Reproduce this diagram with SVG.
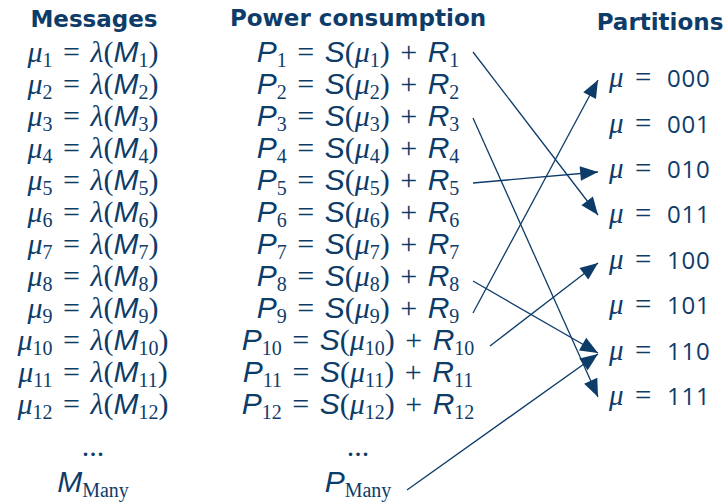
<svg xmlns="http://www.w3.org/2000/svg" width="727" height="504" viewBox="0 0 727 504">
<style>
text{fill:#0e3c69}
.h{font-family:"DejaVu Sans",sans-serif;font-weight:bold;font-size:23px;text-anchor:middle}
.m{font-family:"Liberation Serif",serif;font-size:30px;text-anchor:middle;word-spacing:3px}
.p{font-family:"Liberation Serif",serif;font-size:29px}
.g{font-style:italic}
.s{font-family:"Liberation Sans",sans-serif;font-style:italic}
.b{font-size:20px}
.d{font-family:"Open Sans","Liberation Sans",sans-serif;font-size:24px;letter-spacing:0.8px}
.c line{stroke:#0e3c69;stroke-width:1.3;fill:none}
</style>
<defs>
<marker id="ah" markerUnits="userSpaceOnUse" markerWidth="20" markerHeight="16" viewBox="-17 -7 18 14" refX="0" refY="0" orient="auto">
<path d="M0,0 L-16,-6.5 L-16,6.5 z" fill="#0e3c69"/>
</marker>
</defs>
<g id="headers">
<text class="h" x="94" y="27">Messages</text>
<text class="h" x="358" y="26">Power consumption</text>
<text class="h" x="660" y="30">Partitions</text>
</g>
<g id="messages">
<text class="m" x="93" y="62"><tspan class="g">μ</tspan><tspan class="b" dy="5">1</tspan><tspan dy="-5"> = </tspan><tspan class="g">λ</tspan>(<tspan class="s">M</tspan><tspan class="b" dy="5">1</tspan><tspan dy="-5">)</tspan></text>
<text class="m" x="93" y="94"><tspan class="g">μ</tspan><tspan class="b" dy="5">2</tspan><tspan dy="-5"> = </tspan><tspan class="g">λ</tspan>(<tspan class="s">M</tspan><tspan class="b" dy="5">2</tspan><tspan dy="-5">)</tspan></text>
<text class="m" x="93" y="126"><tspan class="g">μ</tspan><tspan class="b" dy="5">3</tspan><tspan dy="-5"> = </tspan><tspan class="g">λ</tspan>(<tspan class="s">M</tspan><tspan class="b" dy="5">3</tspan><tspan dy="-5">)</tspan></text>
<text class="m" x="93" y="158"><tspan class="g">μ</tspan><tspan class="b" dy="5">4</tspan><tspan dy="-5"> = </tspan><tspan class="g">λ</tspan>(<tspan class="s">M</tspan><tspan class="b" dy="5">4</tspan><tspan dy="-5">)</tspan></text>
<text class="m" x="93" y="190"><tspan class="g">μ</tspan><tspan class="b" dy="5">5</tspan><tspan dy="-5"> = </tspan><tspan class="g">λ</tspan>(<tspan class="s">M</tspan><tspan class="b" dy="5">5</tspan><tspan dy="-5">)</tspan></text>
<text class="m" x="93" y="222"><tspan class="g">μ</tspan><tspan class="b" dy="5">6</tspan><tspan dy="-5"> = </tspan><tspan class="g">λ</tspan>(<tspan class="s">M</tspan><tspan class="b" dy="5">6</tspan><tspan dy="-5">)</tspan></text>
<text class="m" x="93" y="254"><tspan class="g">μ</tspan><tspan class="b" dy="5">7</tspan><tspan dy="-5"> = </tspan><tspan class="g">λ</tspan>(<tspan class="s">M</tspan><tspan class="b" dy="5">7</tspan><tspan dy="-5">)</tspan></text>
<text class="m" x="93" y="286"><tspan class="g">μ</tspan><tspan class="b" dy="5">8</tspan><tspan dy="-5"> = </tspan><tspan class="g">λ</tspan>(<tspan class="s">M</tspan><tspan class="b" dy="5">8</tspan><tspan dy="-5">)</tspan></text>
<text class="m" x="93" y="318"><tspan class="g">μ</tspan><tspan class="b" dy="5">9</tspan><tspan dy="-5"> = </tspan><tspan class="g">λ</tspan>(<tspan class="s">M</tspan><tspan class="b" dy="5">9</tspan><tspan dy="-5">)</tspan></text>
<text class="m" x="93" y="350"><tspan class="g">μ</tspan><tspan class="b" dy="5">10</tspan><tspan dy="-5"> = </tspan><tspan class="g">λ</tspan>(<tspan class="s">M</tspan><tspan class="b" dy="5">10</tspan><tspan dy="-5">)</tspan></text>
<text class="m" x="93" y="382"><tspan class="g">μ</tspan><tspan class="b" dy="5">11</tspan><tspan dy="-5"> = </tspan><tspan class="g">λ</tspan>(<tspan class="s">M</tspan><tspan class="b" dy="5">11</tspan><tspan dy="-5">)</tspan></text>
<text class="m" x="93" y="414"><tspan class="g">μ</tspan><tspan class="b" dy="5">12</tspan><tspan dy="-5"> = </tspan><tspan class="g">λ</tspan>(<tspan class="s">M</tspan><tspan class="b" dy="5">12</tspan><tspan dy="-5">)</tspan></text>
<text class="m" x="93" y="456">...</text>
<text class="m" x="93" y="492"><tspan class="s">M</tspan><tspan class="b" dy="5">Many</tspan></text>
</g>
<g id="power">
<text class="m" x="358" y="62"><tspan class="s">P</tspan><tspan class="b" dy="5">1</tspan><tspan dy="-5"> = </tspan><tspan class="s">S</tspan>(<tspan class="g">μ</tspan><tspan class="b" dy="5">1</tspan><tspan dy="-5">) + </tspan><tspan class="s">R</tspan><tspan class="b" dy="5">1</tspan></text>
<text class="m" x="358" y="94"><tspan class="s">P</tspan><tspan class="b" dy="5">2</tspan><tspan dy="-5"> = </tspan><tspan class="s">S</tspan>(<tspan class="g">μ</tspan><tspan class="b" dy="5">2</tspan><tspan dy="-5">) + </tspan><tspan class="s">R</tspan><tspan class="b" dy="5">2</tspan></text>
<text class="m" x="358" y="126"><tspan class="s">P</tspan><tspan class="b" dy="5">3</tspan><tspan dy="-5"> = </tspan><tspan class="s">S</tspan>(<tspan class="g">μ</tspan><tspan class="b" dy="5">3</tspan><tspan dy="-5">) + </tspan><tspan class="s">R</tspan><tspan class="b" dy="5">3</tspan></text>
<text class="m" x="358" y="158"><tspan class="s">P</tspan><tspan class="b" dy="5">4</tspan><tspan dy="-5"> = </tspan><tspan class="s">S</tspan>(<tspan class="g">μ</tspan><tspan class="b" dy="5">4</tspan><tspan dy="-5">) + </tspan><tspan class="s">R</tspan><tspan class="b" dy="5">4</tspan></text>
<text class="m" x="358" y="190"><tspan class="s">P</tspan><tspan class="b" dy="5">5</tspan><tspan dy="-5"> = </tspan><tspan class="s">S</tspan>(<tspan class="g">μ</tspan><tspan class="b" dy="5">5</tspan><tspan dy="-5">) + </tspan><tspan class="s">R</tspan><tspan class="b" dy="5">5</tspan></text>
<text class="m" x="358" y="222"><tspan class="s">P</tspan><tspan class="b" dy="5">6</tspan><tspan dy="-5"> = </tspan><tspan class="s">S</tspan>(<tspan class="g">μ</tspan><tspan class="b" dy="5">6</tspan><tspan dy="-5">) + </tspan><tspan class="s">R</tspan><tspan class="b" dy="5">6</tspan></text>
<text class="m" x="358" y="254"><tspan class="s">P</tspan><tspan class="b" dy="5">7</tspan><tspan dy="-5"> = </tspan><tspan class="s">S</tspan>(<tspan class="g">μ</tspan><tspan class="b" dy="5">7</tspan><tspan dy="-5">) + </tspan><tspan class="s">R</tspan><tspan class="b" dy="5">7</tspan></text>
<text class="m" x="358" y="286"><tspan class="s">P</tspan><tspan class="b" dy="5">8</tspan><tspan dy="-5"> = </tspan><tspan class="s">S</tspan>(<tspan class="g">μ</tspan><tspan class="b" dy="5">8</tspan><tspan dy="-5">) + </tspan><tspan class="s">R</tspan><tspan class="b" dy="5">8</tspan></text>
<text class="m" x="358" y="318"><tspan class="s">P</tspan><tspan class="b" dy="5">9</tspan><tspan dy="-5"> = </tspan><tspan class="s">S</tspan>(<tspan class="g">μ</tspan><tspan class="b" dy="5">9</tspan><tspan dy="-5">) + </tspan><tspan class="s">R</tspan><tspan class="b" dy="5">9</tspan></text>
<text class="m" x="358" y="350"><tspan class="s">P</tspan><tspan class="b" dy="5">10</tspan><tspan dy="-5"> = </tspan><tspan class="s">S</tspan>(<tspan class="g">μ</tspan><tspan class="b" dy="5">10</tspan><tspan dy="-5">) + </tspan><tspan class="s">R</tspan><tspan class="b" dy="5">10</tspan></text>
<text class="m" x="358" y="382"><tspan class="s">P</tspan><tspan class="b" dy="5">11</tspan><tspan dy="-5"> = </tspan><tspan class="s">S</tspan>(<tspan class="g">μ</tspan><tspan class="b" dy="5">11</tspan><tspan dy="-5">) + </tspan><tspan class="s">R</tspan><tspan class="b" dy="5">11</tspan></text>
<text class="m" x="358" y="414"><tspan class="s">P</tspan><tspan class="b" dy="5">12</tspan><tspan dy="-5"> = </tspan><tspan class="s">S</tspan>(<tspan class="g">μ</tspan><tspan class="b" dy="5">12</tspan><tspan dy="-5">) + </tspan><tspan class="s">R</tspan><tspan class="b" dy="5">12</tspan></text>
<text class="m" x="358" y="456">...</text>
<text class="m" x="358" y="492"><tspan class="s">P</tspan><tspan class="b" dy="5">Many</tspan></text>
</g>
<g id="partitions">
<text class="p" y="87"><tspan class="g" x="609">μ</tspan><tspan x="635">=</tspan><tspan class="d" x="667">000</tspan></text>
<text class="p" y="133"><tspan class="g" x="609">μ</tspan><tspan x="635">=</tspan><tspan class="d" x="667">001</tspan></text>
<text class="p" y="178"><tspan class="g" x="609">μ</tspan><tspan x="635">=</tspan><tspan class="d" x="667">010</tspan></text>
<text class="p" y="223"><tspan class="g" x="609">μ</tspan><tspan x="635">=</tspan><tspan class="d" x="667">011</tspan></text>
<text class="p" y="269"><tspan class="g" x="609">μ</tspan><tspan x="635">=</tspan><tspan class="d" x="667">100</tspan></text>
<text class="p" y="314"><tspan class="g" x="609">μ</tspan><tspan x="635">=</tspan><tspan class="d" x="667">101</tspan></text>
<text class="p" y="360"><tspan class="g" x="609">μ</tspan><tspan x="635">=</tspan><tspan class="d" x="667">110</tspan></text>
<text class="p" y="405"><tspan class="g" x="609">μ</tspan><tspan x="635">=</tspan><tspan class="d" x="667">111</tspan></text>
</g>
<g id="connectors" class="c">
<line x1="473" y1="52" x2="598" y2="215" marker-end="url(#ah)"/>
<line x1="473" y1="118" x2="598" y2="397" marker-end="url(#ah)"/>
<line x1="473" y1="183" x2="598" y2="172" marker-end="url(#ah)"/>
<line x1="473" y1="313" x2="598" y2="80" marker-end="url(#ah)"/>
<line x1="473" y1="281" x2="598" y2="353" marker-end="url(#ah)"/>
<line x1="490" y1="346" x2="598" y2="263" marker-end="url(#ah)"/>
<line x1="407" y1="490" x2="598" y2="354" marker-end="url(#ah)"/>
</g>
</svg>
